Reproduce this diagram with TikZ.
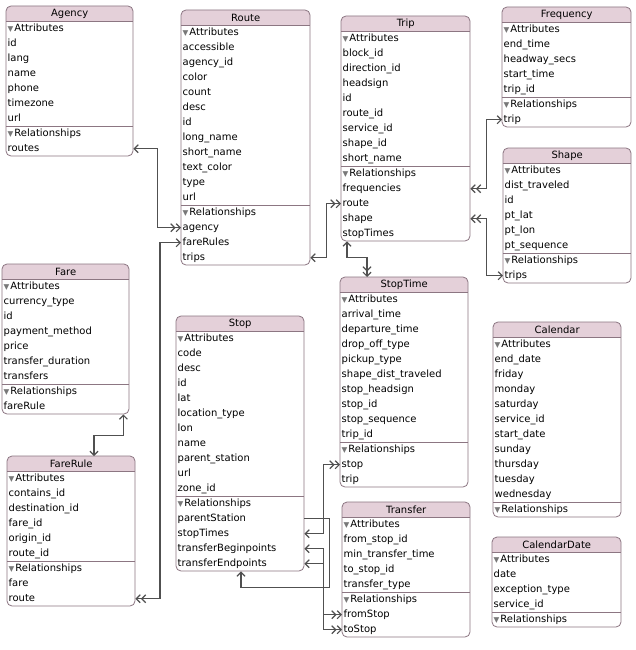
\documentclass[tikz,border=0pt]{standalone}
\usepackage{fontspec}
\setmainfont{DejaVu Sans}
\usepackage{tikz}
\usetikzlibrary{arrows.meta, calc}
\definecolor{headpink}{RGB}{228,208,217}
\definecolor{framegray}{RGB}{140,118,130}
\definecolor{linkgray}{RGB}{80,80,80}
\definecolor{trigray}{RGB}{120,120,120}

\newcommand{\tri}{{\fontsize{7.5}{8}\selectfont\color{trigray}▼}\kern1pt}

\tikzset{
  entityhead/.style={anchor=north west, inner sep=0pt, minimum height=15pt},
  rowitem/.style={anchor=north west, inner xsep=1.5pt, inner ysep=0pt, minimum height=15pt,
    text height=7.5pt, text depth=2.5pt, align=left},
  frame/.style={draw=framegray, line width=0.8pt},
  rel/.style={linkgray, line width=1.2pt},
  tipone/.tip={Straight Barb[length=4pt, width=8pt]},
  tipmany/.tip={Straight Barb[length=4pt, width=8pt] Straight Barb[length=4pt, width=8pt]},
}

% entity box: name, x, y, width, title, attributes, relationships
\newcommand{\entity}[7]{%
  \pgfmathsetmacro\entw{#4-3}
  \fill[headpink] (#2,#3+15) {[rounded corners=5pt] -- (#2,#3) -- (#2+#4,#3)} -- (#2+#4,#3+15) -- cycle;
  \node[entityhead, minimum width=#4pt] (#1) at (#2,#3) {#5};
  \node[rowitem, text width=\entw pt] (#1-attrs) at (#2,#3+15) {\tri Attributes};
  \gdef\nattr{0}
  \foreach \a [count=\i] in {#6} {
    \node[rowitem, text width=\entw pt] (#1-a\i) at (#2,#3+15+15*\i) {\a};
    \xdef\nattr{\i}
  }
  \pgfmathsetmacro\sepy{#3+15+15*(\nattr+1)}
  \node[rowitem, text width=\entw pt] (#1-rels) at (#2,\sepy) {\tri Relationships};
  \gdef\nrel{0}
  \def\rellist{#7}
  \ifx\rellist\empty\else
    \foreach \r [count=\j] in {#7} {
      \node[rowitem, text width=\entw pt] (#1-\r) at (#2,\sepy+15*\j) {\r};
      \xdef\nrel{\j}
    }
  \fi
  \pgfmathsetmacro\boty{\sepy+15*(\nrel+1)}
  \draw[frame] (#2,#3+15) -- (#2+#4,#3+15);
  \draw[frame] (#2,\sepy) -- (#2+#4,\sepy);
  \draw[frame, rounded corners=5pt] (#2,#3) rectangle (#2+#4,\boty);
}

\begin{document}
\begin{tikzpicture}[x=1pt, y=-1pt, font=\fontsize{10}{12}\selectfont]
  \fill[white] (0,0) rectangle (635,650);
  \useasboundingbox (0,0) rectangle (635,650);

  % Entities
  \entity{agency}{6}{6}{127}{Agency}{id, lang, name, phone, timezone, url}{routes}
  \entity{route}{181}{10}{129}{Route}{accessible, agency\_id, color, count, desc, id, long\_name, short\_name, text\_color, type, url}{agency, fareRules, trips}
  \entity{trip}{341}{16}{129}{Trip}{block\_id, direction\_id, headsign, id, route\_id, service\_id, shape\_id, short\_name}{frequencies, route, shape, stopTimes}
  \entity{frequency}{502}{7}{129}{Frequency}{end\_time, headway\_secs, start\_time, trip\_id}{trip}
  \entity{shape}{503}{148}{128}{Shape}{dist\_traveled, id, pt\_lat, pt\_lon, pt\_sequence}{trips}
  \entity{fare}{2}{264}{127}{Fare}{currency\_type, id, payment\_method, price, transfer\_duration, transfers}{fareRule}
  \entity{farerule}{7}{456}{128}{FareRule}{contains\_id, destination\_id, fare\_id, origin\_id, route\_id}{fare, route}
  \entity{stop}{176}{316}{128}{Stop}{code, desc, id, lat, location\_type, lon, name, parent\_station, url, zone\_id}{parentStation, stopTimes, transferBeginpoints, transferEndpoints}
  \entity{stoptime}{340}{277}{128}{StopTime}{arrival\_time, departure\_time, drop\_off\_type, pickup\_type, shape\_dist\_traveled, stop\_headsign, stop\_id, stop\_sequence, trip\_id}{stop, trip}
  \entity{transfer}{342}{502}{128}{Transfer}{from\_stop\_id, min\_transfer\_time, to\_stop\_id, transfer\_type}{fromStop, toStop}
  \entity{calendar}{493}{322}{128}{Calendar}{end\_date, friday, monday, saturday, service\_id, start\_date, sunday, thursday, tuesday, wednesday}{}
  \entity{calendardate}{492}{537}{129}{CalendarDate}{date, exception\_type, service\_id}{}

  % Relationships
  \draw[rel, tipone-tipmany] (agency-routes.east) -- ++(24,0) |- (route-agency.west);
  \draw[rel, tipone-tipmany] (route-fareRules.west) -- ++(-21,0) |- (farerule-route.east);
  \draw[rel, tipone-tipmany] (route-trips.east) -- ++(16,0) |- (trip-route.west);
  \draw[rel, tipone-tipmany] ([xshift=6pt]trip-stopTimes.south west) -- ++(0,16) -| ([xshift=27pt]stoptime.north west);
  \draw[rel, tipmany-tipone] (trip-frequencies.east) -- ++(16,0) |- (frequency-trip.west);
  \draw[rel, tipmany-tipone] (trip-shape.east) -- ++(16,0) |- (shape-trips.west);
  \draw[rel, tipone-tipone] ([xshift=-6pt]fare-fareRule.south east) -- ++(0,21) -| ([xshift=87pt]farerule.north west);
  \draw[rel, tipone-tipmany] (stop-stopTimes.east) -- ++(19,0) |- (stoptime-stop.west);
  \draw[rel, tipone-tipmany] (stop-transferBeginpoints.east) -- ++(19,0) |- (transfer-fromStop.west);
  \draw[rel, tipone-tipmany] (stop-transferEndpoints.east) -- ++(19,0) |- (transfer-toStop.west);
  % parent station loop
  \draw[rel, -tipone] (stop-parentStation.east) -- ++(25,0) |- ([xshift=65pt, yshift=-16pt]stop-transferEndpoints.south west)
    -- ([xshift=65pt]stop-transferEndpoints.south west);
\end{tikzpicture}
\end{document}
